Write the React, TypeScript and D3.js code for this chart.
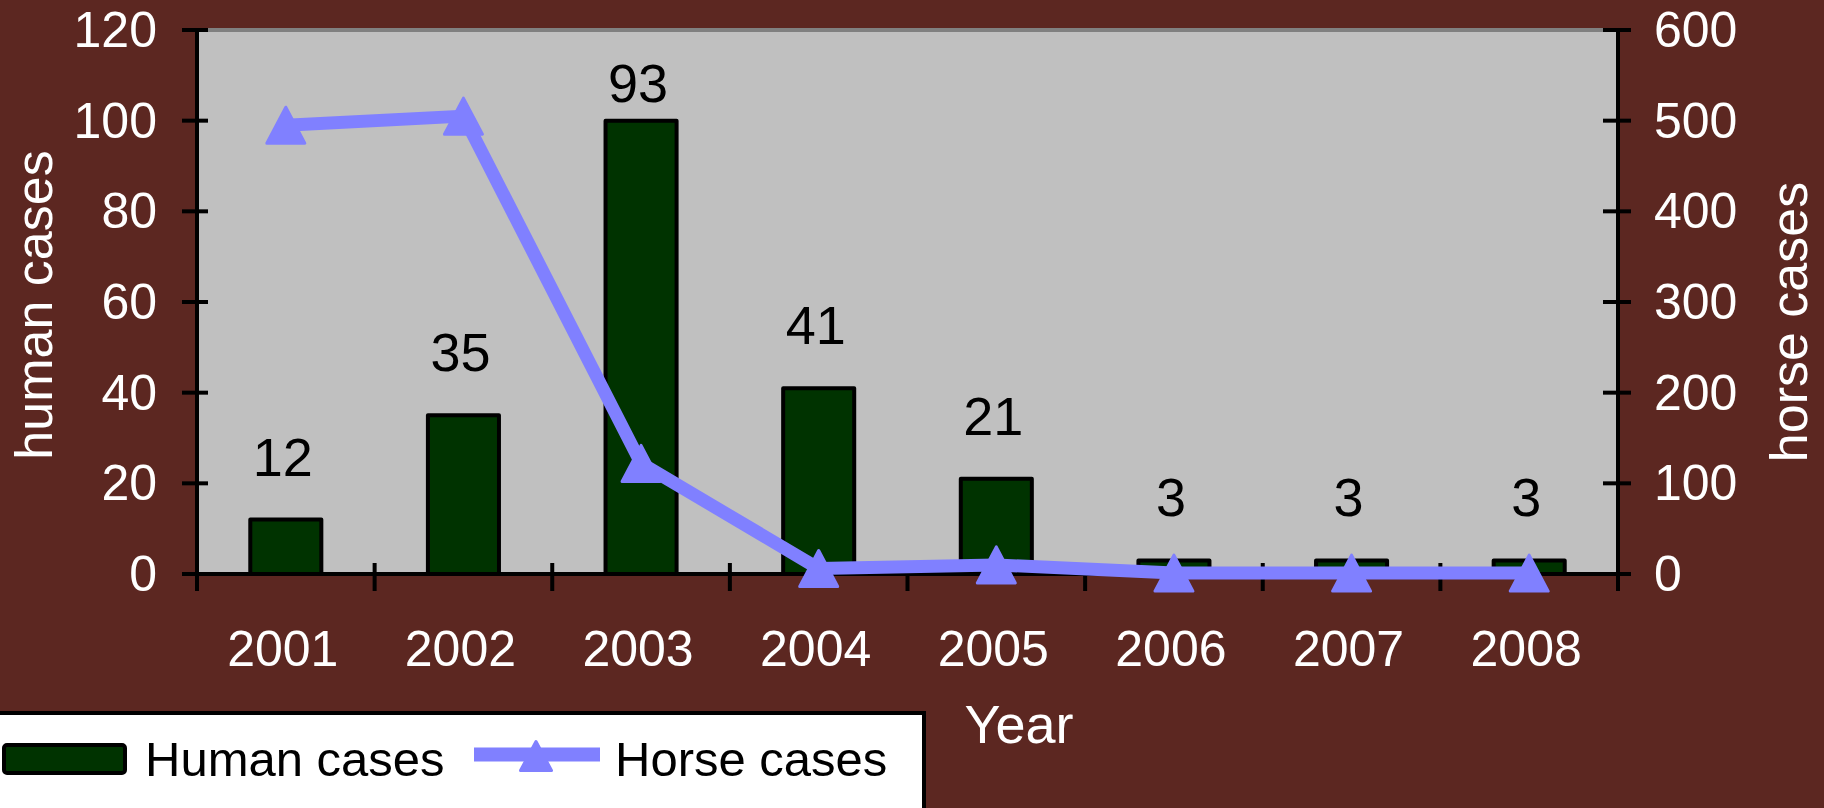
import React from 'react';
import * as d3 from 'd3';

const years = ['2001', '2002', '2003', '2004', '2005', '2006', '2007', '2008'];
const humanBarValues = [12, 35, 100, 41, 21, 3, 3, 3];
const humanLabelValues = [12, 35, 93, 41, 21, 3, 3, 3];
const horseCases = [495, 505, 122, 6, 10, 1, 1, 1];
const leftTicks = [0, 20, 40, 60, 80, 100, 120];
const rightTicks = [0, 100, 200, 300, 400, 500, 600];

const W = 1824;
const H = 808;
const FONT = '"Liberation Sans", Arial, Helvetica, sans-serif';
const BG = '#5C2721';
const PLOT_BG = '#C0C0C0';
const BAR = '#003300';
const LINE = '#8080FF';

export default function App() {
  const left = 197;
  const right = 1618;
  const top = 30;
  const bottom = 574;

  const x = d3.scaleBand<string>().domain(years).range([left, right]).paddingInner(0.6).paddingOuter(0.3);
  const step = x.step();
  const bw = x.bandwidth();
  const cx = (y: string) => (x(y) as number) + bw / 2;
  const yL = d3.scaleLinear().domain([0, 120]).range([bottom, top]);
  const yR = d3.scaleLinear().domain([0, 600]).range([bottom, top]);

  const line = d3
    .line<number>()
    .x((_, i) => cx(years[i]))
    .y((d) => yR(d));

  const tri = (px: number, py: number, w: number, h: number) =>
    `M${px},${py - h / 2}L${px + w / 2},${py + h / 2}L${px - w / 2},${py + h / 2}Z`;

  const boundaries = d3.range(0, years.length + 1).map((i) => left + i * step);

  return (
    <div style={{ position: 'absolute', left: 0, top: 0 }}>
      <svg width={W} height={H} style={{ display: 'block', fontFamily: FONT }}>
        <rect x={0} y={0} width={W} height={H} fill={BG} />
        {/* plot area */}
        <rect x={left} y={top} width={right - left} height={bottom - top} fill={PLOT_BG} stroke="#808080" strokeWidth={4} />
        {/* x axis line */}
        <line x1={left} x2={right} y1={bottom} y2={bottom} stroke="#000" strokeWidth={4} />
        {/* bars */}
        {years.map((yr, i) => (
          <rect
            key={yr}
            x={x(yr)}
            y={yL(humanBarValues[i])}
            width={bw}
            height={bottom - yL(humanBarValues[i])}
            fill={BAR}
            stroke="#000"
            strokeWidth={4}
            strokeLinejoin="round"
          />
        ))}
        {/* x ticks */}
        {boundaries.map((bx, i) => (
          <line key={'xt' + i} x1={bx} x2={bx} y1={563} y2={591} stroke="#000" strokeWidth={4} />
        ))}
        {/* left axis */}
        <line x1={left} x2={left} y1={top - 2} y2={591} stroke="#000" strokeWidth={4} />
        {leftTicks.map((t) => (
          <g key={'lt' + t}>
            <line x1={182} x2={208} y1={yL(t)} y2={yL(t)} stroke="#000" strokeWidth={4} />
            <text x={157} y={yL(t) + 17} textAnchor="end" fontSize={50} fill="#fff">
              {t}
            </text>
          </g>
        ))}
        {/* right axis */}
        <line x1={right} x2={right} y1={top - 2} y2={591} stroke="#000" strokeWidth={4} />
        {rightTicks.map((t) => (
          <g key={'rt' + t}>
            <line x1={1603} x2={1631} y1={yR(t)} y2={yR(t)} stroke="#000" strokeWidth={4} />
            <text x={1654} y={yR(t) + 17} textAnchor="start" fontSize={50} fill="#fff">
              {t}
            </text>
          </g>
        ))}
        {/* x tick labels */}
        {years.map((yr) => (
          <text key={'xl' + yr} x={cx(yr) - 3} y={666} textAnchor="middle" fontSize={50} fill="#fff">
            {yr}
          </text>
        ))}
        {/* data labels */}
        {years.map((yr, i) => (
          <text
            key={'dl' + yr}
            x={cx(yr) - 3}
            y={Math.min(yL(humanLabelValues[i]) - 44, yL(humanBarValues[i]) - 19)}
            textAnchor="middle"
            fontSize={54}
            fill="#000"
          >
            {humanLabelValues[i]}
          </text>
        ))}
        {/* horse line */}
        <path d={line(horseCases) || ''} fill="none" stroke={LINE} strokeWidth={13} strokeLinejoin="round" />
        {horseCases.map((v, i) => (
          <path
            key={'m' + i}
            d={tri(cx(years[i]), yR(v), 38, 36)}
            fill={LINE}
            stroke={LINE}
            strokeWidth={3}
            strokeLinejoin="round"
          />
        ))}
        {/* axis titles */}
        <text transform={`translate(52,305) rotate(-90)`} textAnchor="middle" fontSize={52} fill="#fff">
          human cases
        </text>
        <text transform={`translate(1807,322) rotate(-90)`} textAnchor="middle" fontSize={52} fill="#fff">
          horse cases
        </text>
        <text x={1019} y={743} textAnchor="middle" fontSize={54} fill="#fff">
          Year
        </text>
        {/* legend */}
        <rect x={-6} y={713} width={930} height={110} fill="#fff" stroke="#000" strokeWidth={4} />
        <rect x={4} y={745} width={121} height={28} fill={BAR} stroke="#000" strokeWidth={4} rx={3} />
        <text x={145} y={776} fontSize={49} fill="#000">
          Human cases
        </text>
        <line x1={474} x2={600} y1={754.5} y2={754.5} stroke={LINE} strokeWidth={14} />
        <path d={tri(536, 756, 31, 29)} fill={LINE} stroke={LINE} strokeWidth={3} strokeLinejoin="round" />
        <text x={615} y={776} fontSize={49} fill="#000">
          Horse cases
        </text>
      </svg>
    </div>
  );
}
